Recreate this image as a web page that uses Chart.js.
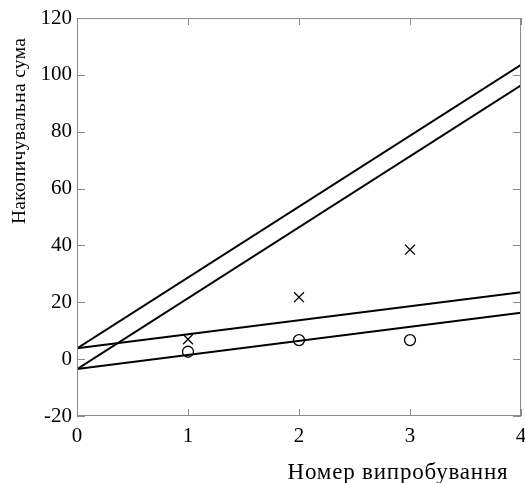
<!DOCTYPE html>
<html>
<head>
<meta charset="utf-8">
<script src="https://cdn.jsdelivr.net/npm/chart.js@4.4.0/dist/chart.umd.min.js"></script>
<style>
  html, body { margin: 0; padding: 0; background: #fff; }
</style>
</head>
<body>
<canvas id="cusumChart" width="525" height="483"></canvas>
<script>
// limit lines, read at x = 0 and x = 4
const lineX = [0, 4];
const upperSteep = [3.8, 103.5];
const lowerSteep = [-3.5, 96.3];
const upperFlat = [3.8, 23.5];
const lowerFlat = [-3.5, 16.3];

// cumulative sums per trial
const trials = [1, 2, 3];
const crossSums = [7, 21.8, 38.5];
const circleSums = [2.6, 6.7, 6.7];

const xTicks = [0, 1, 2, 3, 4];
const yTicks = [-20, 0, 20, 40, 60, 80, 100, 120];

const xTitle = 'Номер випробування';
const yTitle = 'Накопичувальна сума';

function toPoints(xs, ys) {
    return xs.map((x, i) => ({ x: x, y: ys[i] }));
}

function limitLine(ys) {
    return {
        data: toPoints(lineX, ys),
        showLine: true,
        borderColor: '#000',
        borderWidth: 2,
        pointRadius: 0,
        fill: false
    };
}

// Frame, inward tick marks and the two axis titles
const framePlugin = {
    id: 'frame',
    afterDraw(chart) {
        const ctx = chart.ctx;
        const a = chart.chartArea;
        const xs = chart.scales.x;
        const ys = chart.scales.y;
        ctx.save();
        ctx.strokeStyle = '#8a8a8a';
        ctx.lineWidth = 1;
        ctx.strokeRect(a.left + 0.5, a.top + 0.5, a.right - a.left - 1, a.bottom - a.top - 1);
        ctx.beginPath();
        yTicks.forEach(v => {
            const py = Math.round(ys.getPixelForValue(v)) + 0.5;
            ctx.moveTo(a.left, py); ctx.lineTo(a.left + 8, py);
            ctx.moveTo(a.right, py); ctx.lineTo(a.right - 8, py);
        });
        xTicks.forEach(v => {
            const px = Math.round(xs.getPixelForValue(v)) + 0.5;
            ctx.moveTo(px, a.bottom); ctx.lineTo(px, a.bottom - 7);
            ctx.moveTo(px, a.top); ctx.lineTo(px, a.top + 7);
        });
        ctx.stroke();

        ctx.fillStyle = '#000';
        ctx.textAlign = 'center';
        ctx.letterSpacing = '0.8px';
        ctx.font = '23px "Liberation Serif"';
        ctx.textBaseline = 'alphabetic';
        ctx.fillText(xTitle, 398, 479);

        ctx.letterSpacing = '0.3px';
        ctx.font = '19.5px "Liberation Serif"';
        ctx.textBaseline = 'middle';
        ctx.translate(20, 131);
        ctx.rotate(-Math.PI / 2);
        ctx.fillText(yTitle, 0, 0);
        ctx.restore();
    }
};

function initCusumChart() {
    const ctx = document.getElementById('cusumChart').getContext('2d');
    new Chart(ctx, {
        type: 'scatter',
        data: {
            datasets: [
                limitLine(upperSteep),
                limitLine(lowerSteep),
                limitLine(upperFlat),
                limitLine(lowerFlat),
                {
                    data: toPoints(trials, crossSums),
                    pointStyle: 'crossRot',
                    pointRadius: 7,
                    borderColor: '#000',
                    borderWidth: 1.3,
                    backgroundColor: 'transparent'
                },
                {
                    data: toPoints(trials, circleSums),
                    pointStyle: 'circle',
                    pointRadius: 5.5,
                    borderColor: '#000',
                    borderWidth: 1.3,
                    backgroundColor: 'transparent'
                }
            ]
        },
        options: {
            responsive: false,
            animation: false,
            layout: { autoPadding: false, padding: { top: 18, right: 4, left: 0, bottom: 0 } },
            plugins: { legend: { display: false }, tooltip: { enabled: false } },
            scales: {
                x: {
                    type: 'linear',
                    min: 0,
                    max: 4,
                    grid: { display: false, drawTicks: false },
                    border: { display: false },
                    afterBuildTicks: s => { s.ticks = xTicks.map(v => ({ value: v })); },
                    afterFit: s => { s.height = 67; s.paddingLeft = 0; s.paddingRight = 0; },
                    ticks: {
                        padding: 8,
                        color: '#000',
                        font: { family: 'Liberation Serif', size: 21, lineHeight: 1.2 }
                    }
                },
                y: {
                    type: 'linear',
                    min: -20,
                    max: 120,
                    grid: { display: false, drawTicks: false },
                    border: { display: false },
                    afterBuildTicks: s => { s.ticks = yTicks.map(v => ({ value: v })); },
                    afterFit: s => { s.width = 77; s.paddingTop = 0; s.paddingBottom = 0; },
                    ticks: {
                        padding: 5,
                        color: '#000',
                        font: { family: 'Liberation Serif', size: 21, lineHeight: 1.2 }
                    }
                }
            }
        },
        plugins: [framePlugin]
    });
}

document.addEventListener('DOMContentLoaded', initCusumChart);
</script>
</body>
</html>
